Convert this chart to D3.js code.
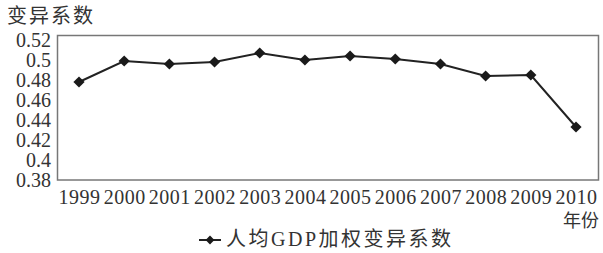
<!DOCTYPE html>
<html>
<head>
<meta charset="utf-8">
<script src="https://cdn.jsdelivr.net/npm/d3@7"></script>
<style>
  body { margin: 0; background: #fff; }
  svg text { fill: #333; }
</style>
</head>
<body>
<div class="chart"></div>
<script>
const years = ['1999', '2000', '2001', '2002', '2003', '2004', '2005', '2006', '2007', '2008', '2009', '2010'];
const values = [0.478, 0.499, 0.496, 0.498, 0.507, 0.500, 0.504, 0.501, 0.496, 0.484, 0.485, 0.433];
const yTicks = [0.38, 0.4, 0.42, 0.44, 0.46, 0.48, 0.5, 0.52];
const seriesName = ['人均', 'GDP', '加权变异系数'];

const width = 603, height = 253;
const serif = '"Liberation Serif", "DejaVu Serif", serif';
const cjk = '"Noto Sans CJK SC", sans-serif';

let svg = d3.select('.chart')
  .append('svg')
  .attr('width', width)
  .attr('height', height);

let xScale = d3.scalePoint()
  .domain(years)
  .range([79, 576]);

let yScale = d3.scaleLinear()
  .domain([0.38, 0.52])
  .range([180, 40]);

// plot frame
svg.append('rect')
  .attr('x', 57.5)
  .attr('y', 35.5)
  .attr('width', 541)
  .attr('height', 144.5)
  .attr('fill', 'none')
  .attr('stroke', '#777')
  .attr('stroke-width', 1.5);

// y axis labels
let yAxis = d3.axisLeft(yScale)
  .tickValues(yTicks)
  .tickSize(0)
  .tickPadding(0)
  .tickFormat(d => String(+d.toFixed(2)));
svg.append('g')
  .attr('transform', 'translate(51, 0)')
  .call(yAxis)
  .call(g => g.select('.domain').remove())
  .selectAll('text')
  .attr('font-family', serif)
  .attr('font-size', 20)
  .attr('fill', '#333');

// x axis labels
let xAxis = d3.axisBottom(xScale).tickSize(0).tickPadding(0);
svg.append('g')
  .attr('transform', 'translate(0, 190)')
  .call(xAxis)
  .call(g => g.select('.domain').remove())
  .selectAll('text')
  .attr('font-family', serif)
  .attr('font-size', 20)
  .attr('letter-spacing', 0.5)
  .attr('fill', '#333');

// titles
svg.append('text')
  .attr('x', 7)
  .attr('y', 23)
  .attr('font-family', cjk)
  .attr('font-size', 20)
  .attr('letter-spacing', 2)
  .text('变异系数');

svg.append('text')
  .attr('x', 599)
  .attr('y', 227)
  .attr('text-anchor', 'end')
  .attr('font-family', cjk)
  .attr('font-size', 18)
  .text('年份');

// series line
let line = d3.line()
  .x((d, i) => xScale(years[i]))
  .y(d => yScale(d));

svg.append('path')
  .datum(values)
  .attr('d', line)
  .attr('fill', 'none')
  .attr('stroke', '#222')
  .attr('stroke-width', 2);

let diamond = d3.symbol().type(d3.symbolDiamond2).size(80);
svg.selectAll('.pt')
  .data(values)
  .enter()
  .append('path')
  .attr('class', 'pt')
  .attr('d', diamond)
  .attr('transform', (d, i) => `translate(${xScale(years[i])}, ${yScale(d)})`)
  .attr('fill', '#1a1a1a');

// legend
let legend = svg.append('g').attr('transform', 'translate(199, 240)');
legend.append('line')
  .attr('x1', 0).attr('x2', 22)
  .attr('stroke', '#222')
  .attr('stroke-width', 2);
legend.append('path')
  .attr('d', d3.symbol().type(d3.symbolDiamond2).size(50))
  .attr('transform', 'translate(11, 0)')
  .attr('fill', '#1a1a1a');
let legendText = legend.append('text')
  .attr('x', 27)
  .attr('y', 6)
  .attr('font-family', cjk)
  .attr('font-size', 20)
  .attr('letter-spacing', 2.5);
legendText.selectAll('tspan')
  .data(seriesName)
  .enter()
  .append('tspan')
  .attr('font-family', d => d === 'GDP' ? serif : cjk)
  .text(d => d);
</script>
</body>
</html>
